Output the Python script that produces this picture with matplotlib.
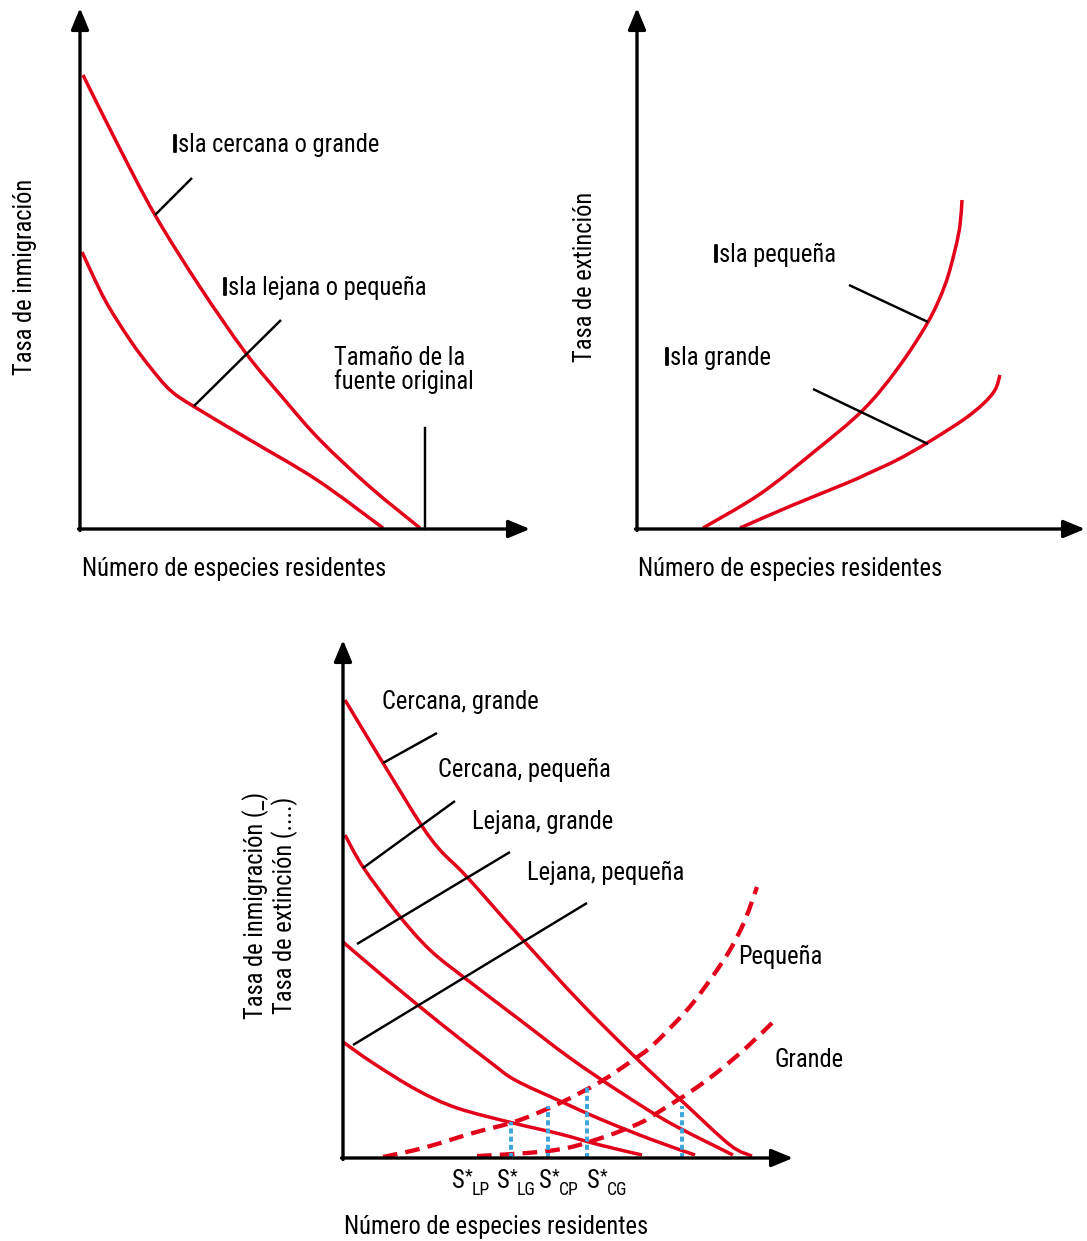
import os
import numpy as np
import matplotlib
matplotlib.use("Agg")
import matplotlib.pyplot as plt
from matplotlib import font_manager as fm
from matplotlib import patheffects as pe
from matplotlib.path import Path
from matplotlib.patches import PathPatch

RED = '#e2001a'
BLUE = '#3aa6dc'

# ---------------- Panel 1: immigration rate ----------------
imm_near_x = [3, 38, 75, 120, 165, 203, 240, 290, 340]
imm_near_y = [454, 384, 314, 242, 177, 131, 89, 42, 1]
imm_far_x = [2, 25, 50, 70, 90, 113, 170, 237, 303]
imm_far_y = [277, 229, 189, 162, 139, 123, 89, 49, 1]
pool_size_x = 345
pool_size_top = 101

# ---------------- Panel 2: extinction rate ----------------
ext_small_x = [66, 123, 178, 226, 261, 291, 308, 318, 323, 325]
ext_small_y = [1, 35, 78, 119, 161, 207, 244, 279, 304, 329]
ext_large_x = [103, 156, 210, 230, 260, 290, 326, 346, 358, 363]
ext_large_y = [1, 24, 46, 55, 69, 86, 109, 125, 139, 154]

# ---------------- Panel 3: equilibrium model ----------------
near_large_x = [2, 40, 77, 97, 124, 180, 237, 290, 340, 387, 409]
near_large_y = [458, 395, 335, 308, 281, 218, 156, 103, 56, 13, 2]
near_small_x = [2, 20, 54, 87, 127, 177, 227, 277, 327, 390]
near_small_y = [323, 291, 245, 208, 176, 138, 100, 66, 35, 3]
far_large_x = [0, 47, 97, 147, 172, 217, 257, 307, 352]
far_large_y = [216, 176, 135, 96, 78, 57, 39, 19, 3]
far_small_x = [0, 30, 74, 114, 170, 217, 257, 299]
far_small_y = [116, 95, 68, 50, 35, 24, 13, 3]
ext_p_x = [40, 80, 130, 174, 217, 257, 290, 310, 344, 367, 387, 402, 414]
ext_p_y = [1, 10, 25, 37, 55, 76, 98, 113, 148, 178, 208, 238, 271]
ext_g_x = [134, 184, 224, 264, 297, 314, 350, 377, 404, 429]
ext_g_y = [2, 5, 10, 22, 35, 45, 68, 88, 111, 135]
eq_x = [168, 205, 244, 339]
eq_top = [36, 52, 72, 52]
eq_labels = ['LP', 'LG', 'CP', 'CG']
eq_label_x = [109, 154, 196, 244]

AXIS_LABEL = 'Número de especies residentes'


# ---------------- fonts: prefer a condensed sans ----------------
BAD = ('bold', 'italic', 'oblique', 'light', 'thin', 'medium', 'black', 'semi',
       'extra', 'ultra', 'heavy', 'demi', 'mono', 'serif', 'cjk', 'math',
       'display', 'ui')
PREFS = ('robotocondensed', 'liberationsansnarrow', 'notosans-condensed',
         'opensans_condensed', 'opensanscondensed', 'opensans-condensed')


def find_regular_condensed():
    best = None
    for f in fm.fontManager.ttflist:
        b = os.path.basename(f.fname).lower()
        if not ('condensed' in b or 'narrow' in b):
            continue
        if any(w in b for w in BAD):
            continue
        rank = next((i for i, p in enumerate(PREFS) if b.startswith(p)), None)
        if rank is None:
            continue
        if best is None or rank < best[0]:
            best = (rank, f.fname)
    return best[1] if best else None


def find_bold_of(path):
    d = os.path.dirname(path)
    b = os.path.basename(path).lower()
    prefix = b.split('-')[0].split('[')[0]
    for f in fm.fontManager.ttflist:
        fb = os.path.basename(f.fname).lower()
        if os.path.dirname(f.fname) != d or not fb.startswith(prefix):
            continue
        if 'bold' not in fb or any(w in fb for w in ('italic', 'semi', 'extra', 'ultra', 'oblique')):
            continue
        if ('condensed' in b) != ('condensed' in fb):
            continue
        return f.fname
    return None


reg_path = find_regular_condensed()
bold_path = None
if reg_path:
    FP = fm.FontProperties(fname=reg_path)
    bold_path = find_bold_of(reg_path)
    FPB = fm.FontProperties(fname=bold_path) if bold_path else FP.copy()
else:
    FP = fm.FontProperties(family=['Roboto', 'DejaVu Sans'])
    FPB = fm.FontProperties(family=['Roboto', 'DejaVu Sans'], weight='bold')
    bold_path = 'family'

W, H = 1087, 1241
fig = plt.figure(figsize=(W / 100, H / 100), dpi=100)

# size the text so the axis caption spans its intended width
_probe = fig.text(0, 0, AXIS_LABEL, fontproperties=FP, fontsize=18)
_w = _probe.get_window_extent(fig.canvas.get_renderer()).width
_probe.remove()
FS = min(19.5, 18 * 305 / _w)

LW_RED = 2.5
LW_DASH = 3.1
LW_AXIS = 2.4
LW_LEAD = 1.75


def fp(size, bold=False):
    p = (FPB if bold else FP).copy()
    p.set_size(size)
    return p


def panel(x0, y0, x1, y1, ox, oy):
    ax = fig.add_axes([x0 / W, 1 - y1 / H, (x1 - x0) / W, (y1 - y0) / H])
    ax.set_xlim(x0 - ox, x1 - ox)
    ax.set_ylim(oy - y1, oy - y0)
    ax.axis('off')
    return ax


def smooth(xs, ys):
    p = np.column_stack([xs, ys]).astype(float)
    n = len(p)
    verts = [p[0]]
    codes = [Path.MOVETO]
    for i in range(n - 1):
        p0 = p[i - 1] if i > 0 else p[i]
        p1, p2 = p[i], p[i + 1]
        p3 = p[i + 2] if i + 2 < n else p[i + 1]
        verts += [p1 + (p2 - p0) / 6, p2 - (p3 - p1) / 6, p2]
        codes += [Path.CURVE4] * 3
    return Path(verts, codes)


def curve(ax, xs, ys, **kw):
    style = dict(fill=False, edgecolor=RED, lw=LW_RED, capstyle='butt', joinstyle='round')
    style.update(kw)
    ax.add_patch(PathPatch(smooth(xs, ys), **style))


def axes_arrows(ax, xtip, ytip):
    props = dict(arrowstyle='-|>,head_length=0.65,head_width=0.27', mutation_scale=20,
                 lw=LW_AXIS, color='black', shrinkA=0, shrinkB=0)
    ax.annotate('', xy=(xtip, 0), xytext=(-1.5, 0), arrowprops=props)
    ax.annotate('', xy=(0, ytip), xytext=(0, -1.5), arrowprops=props)


def leader(ax, p, q):
    ax.plot([p[0], q[0]], [p[1], q[1]], color='black', lw=LW_LEAD, solid_capstyle='butt')


def label(ax, x, y, s, **kw):
    kw.setdefault('va', 'center')
    kw.setdefault('ha', 'left')
    return ax.text(x, y, s, fontproperties=fp(FS), **kw)


def isla_label(ax, x, y, rest):
    t = ax.text(x, y, 'I', fontproperties=fp(FS, bold=True), va='center', ha='left')
    if not bold_path:
        t.set_path_effects([pe.withStroke(linewidth=1.3, foreground='black')])
    ax.annotate(rest, xy=(1, 0), xycoords=t, va='bottom', ha='left', fontproperties=fp(FS))


# Panel 1
ax1 = panel(0, 0, 560, 600, 80, 529)
axes_arrows(ax1, 450, 521)
curve(ax1, imm_near_x, imm_near_y)
curve(ax1, imm_far_x, imm_far_y)
leader(ax1, (75, 314), (112, 351))
leader(ax1, (114, 123), (201, 209))
ax1.plot([pool_size_x, pool_size_x], [0, pool_size_top], color='black', lw=LW_LEAD)
isla_label(ax1, 92, 384, 'sla cercana o grande')
isla_label(ax1, 142, 241, 'sla lejana o pequeña')
label(ax1, 254, 159, 'Tamaño de la\nfuente original', linespacing=0.95)
label(ax1, -55, 252, 'Tasa de inmigración', rotation=90, ha='center')
label(ax1, 2, -40, AXIS_LABEL)

# Panel 2
ax2 = panel(560, 0, 1087, 600, 637, 529)
axes_arrows(ax2, 448, 521)
curve(ax2, ext_small_x, ext_small_y)
curve(ax2, ext_large_x, ext_large_y)
leader(ax2, (212, 244), (291, 207))
leader(ax2, (176, 140), (291, 85))
isla_label(ax2, 76, 274, 'sla pequeña')
isla_label(ax2, 27, 171, 'sla grande')
label(ax2, -52, 252, 'Tasa de extinción', rotation=90, ha='center')
label(ax2, 1, -40, AXIS_LABEL)

# Panel 3
ax3 = panel(200, 600, 900, 1241, 343, 1158)
axes_arrows(ax3, 450, 518)
for xs, ys in [(near_large_x, near_large_y), (near_small_x, near_small_y),
               (far_large_x, far_large_y), (far_small_x, far_small_y)]:
    curve(ax3, xs, ys)
for xs, ys in [(ext_p_x, ext_p_y), (ext_g_x, ext_g_y)]:
    curve(ax3, xs, ys, lw=LW_DASH, linestyle=(0, (3.4, 1.9)))
for x, top in zip(eq_x, eq_top):
    ax3.plot([x, x], [0, top], color=BLUE, lw=2.8, linestyle=(0, (1.3, 0.8)),
             dash_capstyle='butt')
leader(ax3, (40, 395), (94, 425))
leader(ax3, (20, 290), (112, 357))
leader(ax3, (14, 214), (167, 306))
leader(ax3, (10, 113), (244, 255))
label(ax3, 39, 456, 'Cercana, grande')
label(ax3, 95, 388, 'Cercana, pequeña')
label(ax3, 129, 336, 'Lejana, grande')
label(ax3, 184, 285, 'Lejana, pequeña')
label(ax3, 395, 201, 'Pequeña')
label(ax3, 432, 98, 'Grande')
# equilibrium labels: S, raised star, lowered subscript
for lx, sub in zip(eq_label_x, eq_labels):
    ax3.text(lx, -30, 'S', fontproperties=fp(FS), va='baseline', ha='left')
    ax3.text(lx + 13, -23, '*', fontproperties=fp(FS * 0.72), va='baseline', ha='left')
    ax3.text(lx + 20, -37, sub, fontproperties=fp(FS * 0.72), va='baseline', ha='left')
label(ax3, -73, 253, 'Tasa de inmigración (_)\nTasa de extinción (....)',
      rotation=90, ha='center', multialignment='center', linespacing=1.1)
label(ax3, 1, -69, AXIS_LABEL)

fig.savefig('out.png', dpi=100, facecolor='white')
